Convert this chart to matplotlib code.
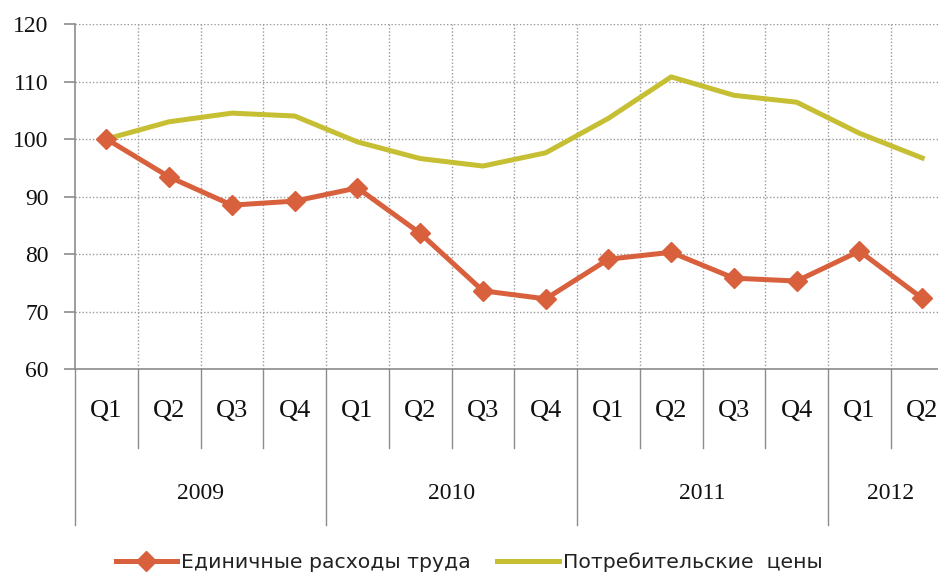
import matplotlib
matplotlib.use("Agg")
import matplotlib.pyplot as plt
import matplotlib.transforms as mtransforms

quarters = ["Q1", "Q2", "Q3", "Q4"] * 3 + ["Q1", "Q2"]
years = ["2009", "2010", "2011", "2012"]
year_len = [4, 4, 4, 2]

labour_costs = [100, 93.4, 88.5, 89.2, 91.5, 83.6, 73.6, 72.2,
                79.1, 80.3, 75.8, 75.3, 80.5, 72.3]
consumer_prices = [100, 103.0, 104.5, 104.0, 99.5, 96.6, 95.3, 97.6,
                   103.6, 110.8, 107.6, 106.4, 101.0, 96.7]

red = "#d8603c"
yellow = "#c6bf33"
grey = "#8c8c8c"
ink = "#111111"
serif = "Liberation Serif"

fig = plt.figure(figsize=(9.38, 5.73), dpi=100)
ax = fig.add_axes([0.0800, 0.356, 0.9366, 0.6021])

x = list(range(len(quarters)))
ax.plot(x, labour_costs, color=red, lw=3.6, marker="D", ms=10.5,
        mec=red, mfc=red, label="Единичные расходы труда", zorder=4)
ax.plot(x, consumer_prices, color=yellow, lw=3.6,
        label="Потребительские  цены", zorder=3)

ax.set_xlim(-0.5, len(quarters) - 0.5)
ax.set_ylim(60, 120)
ax.set_yticks(range(60, 121, 10))

# dotted grid: horizontal at each tick, vertical between quarters
ax.yaxis.grid(True, linestyle=(0, (1, 1.5)), color="#9a9a9a", lw=1)
for b in range(1, len(quarters)):
    ax.axvline(b - 0.5, linestyle=(0, (1, 1.5)), color="#9a9a9a", lw=1, zorder=1)
ax.set_axisbelow(True)

for s in ["top", "right"]:
    ax.spines[s].set_visible(False)
for s in ["left", "bottom"]:
    ax.spines[s].set_color(grey)
    ax.spines[s].set_linewidth(1.2)

ax.tick_params(axis="y", length=8, width=1.2, color=grey, pad=11,
               labelsize=17, labelcolor=ink)
for lab in ax.get_yticklabels():
    lab.set_fontfamily(serif)
ax.set_xticks([])

# two-level category axis below the plot
trans = mtransforms.blended_transform_factory(ax.transData, ax.transAxes)
for i, q in enumerate(quarters):
    ax.text(i, -0.122, q, transform=trans, ha="center", va="center",
            fontsize=19, family=serif, color=ink)

start = 0
for yr, n in zip(years, year_len):
    ax.plot([start - 0.5, start - 0.5], [0, -0.452], transform=trans,
            color=grey, lw=1, clip_on=False)
    for k in range(1, n):
        ax.plot([start + k - 0.5] * 2, [0, -0.229], transform=trans,
                color=grey, lw=1, clip_on=False)
    ax.text(start + (n - 1) / 2, -0.362, yr, transform=trans, ha="center",
            va="center", fontsize=17, family=serif, color=ink)
    start += n
ax.plot([start - 0.5, start - 0.5], [0, -0.452], transform=trans,
        color=grey, lw=1, clip_on=False)

fig.legend(loc="center", bbox_to_anchor=(0.5, 0.019), ncol=2, frameon=False,
           handlelength=3.0, handletextpad=0.2, columnspacing=1.3,
           prop={"family": "DejaVu Sans", "size": 14.7}, labelcolor="#222222")

fig.savefig("out.png", dpi=100)
